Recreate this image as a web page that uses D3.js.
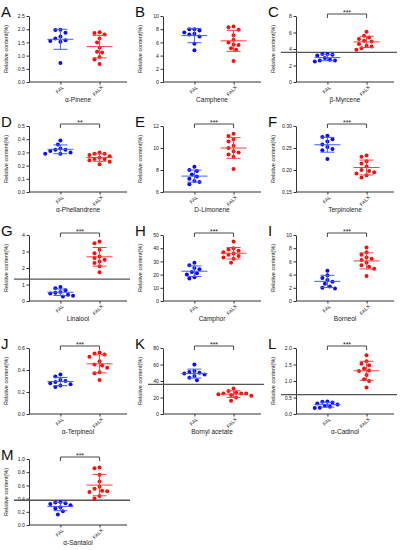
<!DOCTYPE html>
<html>
<head>
<meta charset="utf-8">
<script src="https://cdn.jsdelivr.net/npm/d3@7"></script>
<style>
  body { margin: 0; background: #fff; }
  svg { display: block; font-family: "Liberation Sans", Arial, sans-serif; }
</style>
</head>
<body>
<script>
// panel data
var letters = ["A", "B", "C", "D", "E", "F", "G", "H", "I", "J", "K", "L", "M"];
var compounds = ["α-Pinene", "Camphene", "β-Myrcene", "α-Phellandrene", "D-Limonene",
	"Terpinolene", "Linalool", "Camphor", "Borneol", "α-Terpineol", "Bornyl acetate",
	"α-Cadinol", "α-Santalol"];
var groups = ["FAL", "FALX"];
var yMin = [0, 0, 0, 0, 6, 0.15, 0, 0, 0, 0, 0, 0, 0];
var yMax = [2.5, 10, 8, 0.5, 12, 0.30, 4, 50, 10, 0.6, 80, 2.0, 1.0];
var yStep = [0.5, 2, 2, 0.1, 2, 0.05, 1, 10, 2, 0.2, 20, 0.5, 0.2];
var tickFmt = [".1f", "d", "d", ".1f", "d", ".2f", "d", "d", "d", ".1f", "d", ".1f", ".1f"];
var signif = ["", "", "***", "**", "***", "***", "***", "***", "***", "***", "***", "***", "***"];
var cutoff = [null, null, 3.6, null, null, null, 1.33, null, null, null, 36, 0.59, 0.375];

var falData = [
	[1.98, 1.97, 1.87, 1.72, 1.65, 1.58, 1.55, 1.52, 0.72],
	[8.0, 8.0, 7.8, 7.5, 7.3, 7.2, 6.9, 5.8, 4.8],
	[3.4, 3.4, 3.3, 3.2, 2.9, 2.7, 2.6, 2.6, 2.5],
	[0.39, 0.36, 0.33, 0.32, 0.32, 0.31, 0.30, 0.29, 0.29],
	[8.3, 8.0, 7.9, 7.6, 7.4, 7.2, 7.0, 6.9, 6.7],
	[0.278, 0.275, 0.270, 0.265, 0.258, 0.252, 0.248, 0.245, 0.225],
	[0.85, 0.78, 0.65, 0.55, 0.50, 0.45, 0.38, 0.32, 0.28],
	[29, 27, 25, 24, 22, 21, 20, 18, 17],
	[4.6, 3.9, 3.5, 3.2, 2.9, 2.6, 2.2, 2.0, 1.9],
	[0.36, 0.34, 0.31, 0.30, 0.29, 0.28, 0.27, 0.26, 0.245],
	[60, 52, 51, 50, 49, 48, 46, 44, 41],
	[0.38, 0.37, 0.35, 0.32, 0.29, 0.25, 0.22, 0.19, 0.18],
	[0.35, 0.34, 0.33, 0.32, 0.30, 0.27, 0.25, 0.21, 0.16]
];
var falxData = [
	[1.88, 1.86, 1.80, 1.65, 1.50, 1.30, 1.15, 1.12, 0.95, 0.85, 0.68],
	[8.4, 8.3, 7.9, 7.1, 6.4, 6.0, 5.7, 5.6, 5.1, 4.9, 3.2],
	[6.1, 5.6, 5.4, 5.2, 5.0, 4.9, 4.6, 4.4, 4.3, 4.1, 3.9],
	[0.30, 0.29, 0.29, 0.28, 0.27, 0.26, 0.25, 0.25, 0.24, 0.23, 0.21],
	[11.3, 11.1, 10.8, 10.6, 10.2, 10.0, 9.6, 9.7, 9.4, 9.2, 8.1],
	[0.233, 0.230, 0.220, 0.215, 0.208, 0.200, 0.198, 0.195, 0.192, 0.188, 0.183],
	[3.6, 3.5, 3.1, 2.9, 2.7, 2.6, 2.5, 2.4, 2.3, 2.1, 1.75],
	[45, 40, 39, 38, 37, 36, 35, 34, 33, 32, 29],
	[8.1, 7.4, 7.0, 6.6, 6.4, 6.2, 5.8, 5.4, 5.2, 4.9, 3.8],
	[0.56, 0.55, 0.54, 0.52, 0.48, 0.45, 0.44, 0.42, 0.38, 0.37, 0.31],
	[31, 28, 26, 25, 25, 25, 24, 23, 22, 20, 16],
	[1.78, 1.60, 1.52, 1.48, 1.38, 1.32, 1.30, 1.18, 1.05, 1.00, 0.80],
	[0.87, 0.86, 0.76, 0.66, 0.58, 0.55, 0.52, 0.51, 0.50, 0.44, 0.40]
];

var colors = { FAL: "#0a0aff", FALX: "#ff0a0a" };
var lineColors = { FAL: "#3d5cff", FALX: "#ff3b3b" };

var width = 402, height = 550;
var colX = [29, 163, 296],
	rowY = [16, 126, 235, 348, 459];
var W = 98, H = 66;

var svg = d3.select("body").append("svg")
	.attr("width", width)
	.attr("height", height);

svg.append("rect").attr("width", width).attr("height", height).attr("fill", "#fff");

// simple dodge so equal values sit side by side
function swarm(vals, y, d) {
	var placed = [];
	var offs = new Array(vals.length);
	var order = vals.map(function(v, i) { return i; })
		.sort(function(a, b) { return vals[b] - vals[a]; });
	order.forEach(function(i) {
		var py = y(vals[i]);
		for (var k = 0; k < 40; k++) {
			var dx = (k === 0) ? 0 : (k % 2 ? -1 : 1) * Math.ceil(k / 2) * d * 0.55;
			var hit = placed.some(function(p) {
				return (p[0] - dx) * (p[0] - dx) + (p[1] - py) * (p[1] - py) < d * d;
			});
			if (!hit) { offs[i] = dx; placed.push([dx, py]); break; }
		}
	});
	return offs;
}

letters.forEach(function(letter, i) {
	var g = svg.append("g")
		.attr("transform", "translate(" + colX[i % 3] + "," + rowY[Math.floor(i / 3)] + ")");

	var y = d3.scaleLinear().domain([yMin[i], yMax[i]]).range([H, 0]);
	var x = d3.scalePoint().domain(groups).range([4, W]).padding(0.7);

	// y axis
	var yAxis = g.append("g")
		.call(d3.axisLeft(y)
			.tickValues(d3.range(yMin[i], yMax[i] + yStep[i] / 2, yStep[i]))
			.tickFormat(d3.format(tickFmt[i]))
			.tickSize(2.5)
			.tickSizeOuter(0)
			.tickPadding(1.5));
	yAxis.selectAll("text").style("font-size", "5.2px").attr("fill", "#222");
	yAxis.selectAll("line, path").attr("stroke", "#333");

	// x axis
	var xAxis = g.append("g")
		.attr("transform", "translate(0," + H + ")")
		.call(d3.axisBottom(x).tickSize(2.5).tickSizeOuter(0));
	xAxis.select(".domain").remove();
	xAxis.append("line").attr("x1", 0).attr("x2", W).attr("stroke", "#333");
	xAxis.selectAll("line").attr("stroke", "#333");
	xAxis.selectAll("text")
		.attr("x", 0).attr("y", 0).attr("dy", "0.35em")
		.attr("transform", "translate(2,4.5) rotate(-45)")
		.style("text-anchor", "end")
		.style("font-size", "5px")
		.attr("fill", "#222");

	// titles
	g.append("text")
		.attr("x", W / 2).attr("y", H + 20)
		.attr("text-anchor", "middle")
		.style("font-size", "6.5px")
		.attr("fill", "#222")
		.text(compounds[i]);
	g.append("text")
		.attr("transform", "translate(-21," + (H / 2) + ") rotate(-90)")
		.attr("text-anchor", "middle")
		.style("font-size", "5.5px")
		.attr("fill", "#222")
		.text("Relative content(%)");
	g.append("text")
		.attr("x", -28).attr("y", 1)
		.style("font-size", "15px")
		.attr("fill", "#111")
		.text(letter);

	// horizontal reference line
	if (cutoff[i] !== null) {
		g.append("line")
			.attr("x1", -15).attr("x2", W + 3)
			.attr("y1", y(cutoff[i])).attr("y2", y(cutoff[i]))
			.attr("stroke", "#555").attr("stroke-width", 1.3);
	}

	// scatter with mean +/- SD
	[falData[i], falxData[i]].forEach(function(vals, j) {
		var grp = groups[j];
		var cx = x(grp);
		var m = d3.mean(vals), sd = d3.deviation(vals);
		var offs = swarm(vals, y, 4.6);

		g.selectAll(".pt" + j)
			.data(vals)
			.enter()
			.append("circle")
			.attr("cx", function(d, k) { return cx + offs[k]; })
			.attr("cy", function(d) { return y(d); })
			.attr("r", 2)
			.attr("fill", colors[grp]);

		var eb = g.append("g").attr("stroke", lineColors[grp]).attr("stroke-width", 1);
		eb.append("line").attr("x1", cx - 13).attr("x2", cx + 13).attr("y1", y(m)).attr("y2", y(m));
		eb.append("line").attr("x1", cx).attr("x2", cx).attr("y1", y(m - sd)).attr("y2", y(m + sd));
		eb.append("line").attr("x1", cx - 7).attr("x2", cx + 7).attr("y1", y(m - sd)).attr("y2", y(m - sd));
		eb.append("line").attr("x1", cx - 7).attr("x2", cx + 7).attr("y1", y(m + sd)).attr("y2", y(m + sd));
	});

	// significance bracket
	if (signif[i]) {
		var x1 = x("FAL"), x2 = x("FALX");
		g.append("path")
			.attr("d", "M" + x1 + ",2V-2H" + x2 + "V2")
			.attr("fill", "none").attr("stroke", "#333").attr("stroke-width", 0.9);
		g.append("text")
			.attr("x", (x1 + x2) / 2).attr("y", -1)
			.attr("text-anchor", "middle")
			.style("font-size", "7px")
			.attr("fill", "#222")
			.text(signif[i]);
	}
});
</script>
</body>
</html>
